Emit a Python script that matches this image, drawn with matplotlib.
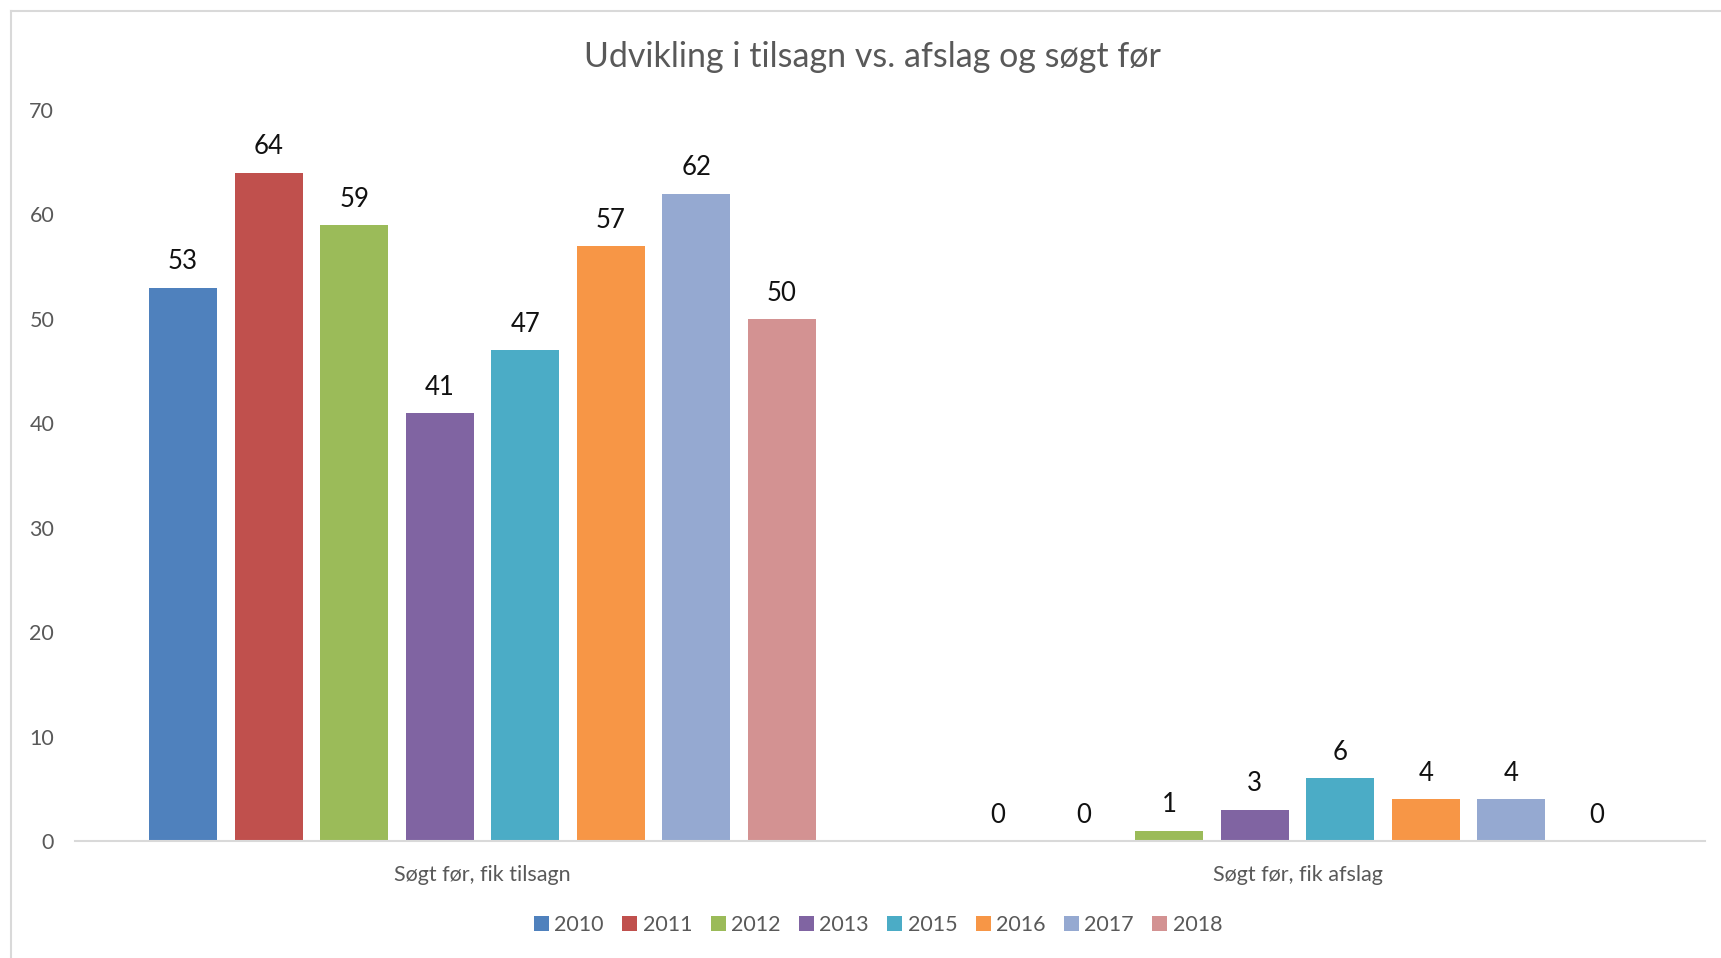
import matplotlib.pyplot as plt
import numpy as np
from matplotlib.lines import Line2D

plt.rcParams['font.family'] = ['Lato', 'DejaVu Sans']

categories = ['Søgt før, fik tilsagn', 'Søgt før, fik afslag']
years = ['2010', '2011', '2012', '2013', '2015', '2016', '2017', '2018']
tilsagn = [53, 64, 59, 41, 47, 57, 62, 50]
afslag = [0, 0, 1, 3, 6, 4, 4, 0]
colors = ['#4F81BD', '#C0504D', '#9BBB59', '#8064A2',
          '#4BACC6', '#F79646', '#95A9D1', '#D39292']

W, H = 1721, 958
fig = plt.figure(figsize=(W / 100, H / 100), dpi=100)
ax = fig.add_axes([75 / W, 117 / H, (1705 - 75) / W, (848 - 117) / H])

x = np.arange(len(categories))
step = 0.105
width = 0.0835
for i, year in enumerate(years):
    vals = [tilsagn[i], afslag[i]]
    pos = x + (i - 3.5) * step
    bars = ax.bar(pos, vals, width, color=colors[i], label=year)
    for b, v in zip(bars, vals):
        ax.annotate(str(v), (b.get_x() + b.get_width() / 2, v),
                    xytext=(0, 18.5), textcoords='offset points',
                    ha='center', va='center', fontsize=18.5, color='#111111')

ax.set_xlim(-0.5, 1.5)
ax.set_ylim(0, 70)
ax.set_yticks(range(0, 71, 10))
ax.set_xticks(x)
ax.set_xticklabels(categories)
for s in ['top', 'right', 'left']:
    ax.spines[s].set_visible(False)
ax.spines['bottom'].set_color('#D9D9D9')
ax.spines['bottom'].set_linewidth(1.5)
ax.tick_params(axis='both', length=0, labelsize=15.5, colors='#595959')
ax.tick_params(axis='y', pad=15)
ax.tick_params(axis='x', pad=17)

fig.text(795 * 1.0976 / W, 1 - 52 * 1.0976 / H,
         'Udvikling i tilsagn vs. afslag og søgt før',
         ha='center', va='center', fontsize=24.5, color='#595959')

leg = fig.legend(loc='center', bbox_to_anchor=(800 * 1.0976 / W, 1 - 843 * 1.0976 / H),
                 ncol=len(years), frameon=False, fontsize=15.5,
                 handlelength=0.7, handleheight=0.7, handletextpad=0.25,
                 columnspacing=0.85)
for t in leg.get_texts():
    t.set_color('#595959')

# light chart frame
fig.add_artist(Line2D([11 / W, 11 / W], [0, 1 - 11 / H], color='#D9D9D9', lw=1.5))
fig.add_artist(Line2D([11 / W, 1], [1 - 11 / H, 1 - 11 / H], color='#D9D9D9', lw=1.5))

fig.savefig('out.png', dpi=100)
